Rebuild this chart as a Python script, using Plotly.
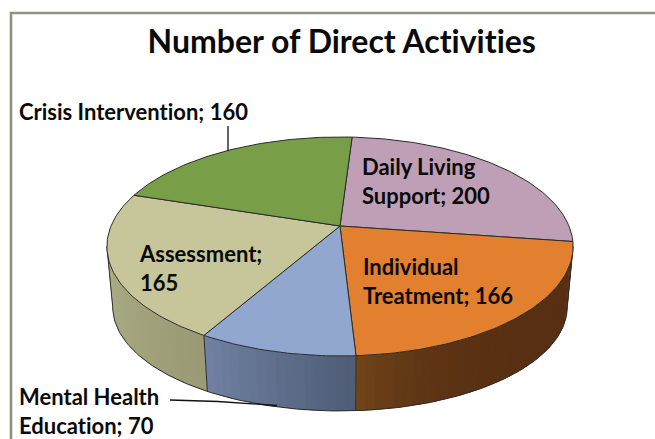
import math
import plotly.graph_objects as go

# ---- data ----
categories = ["Daily Living Support", "Individual Treatment", "Mental Health Education", "Assessment", "Crisis Intervention"]
values = [200, 166, 70, 165, 160]
top_colors = ["#BE9FB5", "#E28030", "#91A7CF", "#C6C69A", "#789E47"]
side_from = [None, "#582F12", "#4F5D76", "#9A9B74", None]
side_to = [None, "#704419", "#6F80A2", "#ACAD86", None]
side_ease = [1, 6.0, 1.0, 1.0, 1]
title_text = "Number of Direct Activities"
start_angle = 3.6

# ---- projection of the tilted pie ----
HX, HY, D, A, C = 340.0, 226.0, 229.0, -63.4, 0.187
BASE_S, BASE_X, BASE_Y = 0.975, 0.95, 411.0
EDGE = "#2b2b2b"
LIMB_R = math.degrees(math.acos(-C))
LIMB_L = 360 - LIMB_R


def top_pt(t):
    r = math.radians(t)
    u, v = math.sin(r), math.cos(r)
    w = 1 + C * v
    return HX + D * u / w, (HY + A * v) / w


def low_pt(t):
    x, y = top_pt(t)
    return HX + (x - HX) * BASE_S, BASE_Y + (y - 356.0) * BASE_X


def hexmix(a, b, f):
    ca = [int(a[i:i + 2], 16) for i in (1, 3, 5)]
    cb = [int(b[i:i + 2], 16) for i in (1, 3, 5)]
    return "rgb(%d,%d,%d)" % tuple(round(p + (q - p) * f) for p, q in zip(ca, cb))


def arange(a, b, step=1.0):
    n = max(2, int(abs(b - a) / step) + 1)
    return [a + (b - a) * i / (n - 1) for i in range(n)]


total = sum(values)
spans = []
ang = start_angle
for val in values:
    end = ang + val / total * 360
    spans.append((ang, end))
    ang = end

fig = go.Figure()


def poly(xs, ys, fill, line=None, width=1):
    ln = dict(color=line, width=width) if line else dict(width=0)
    fig.add_trace(go.Scatter(x=xs, y=ys, mode="lines", fill="toself", fillcolor=fill,
                             line=ln, hoverinfo="skip", showlegend=False))


def path(xs, ys, color=EDGE, width=1):
    fig.add_trace(go.Scatter(x=xs, y=ys, mode="lines", line=dict(color=color, width=width),
                             hoverinfo="skip", showlegend=False))


# side wall: overlapping strips per visible slice, painted so no seams appear
for (a, b), c0, c1, e in zip(spans, side_from, side_to, side_ease):
    if c0 is None:
        continue
    a = max(a, LIMB_R - 2.6)
    b = min(b, LIMB_L)
    ts = arange(a, b, 2.0)
    for i in range(len(ts) - 1):
        f = (i / max(1, len(ts) - 2)) ** e
        col = hexmix(c0, c1, f)
        arc = arange(ts[i], b if i > len(ts) - 3 else ts[i + 1] + 1.0, 1.0)
        arc = [min(t, b) for t in arc]
        p = [top_pt(t) for t in arc] + [low_pt(t) for t in reversed(arc)]
        poly([q[0] for q in p] + [p[0][0]], [q[1] for q in p] + [p[0][1]], col)

# lower rim, outer limb lines and wall edges
rim = arange(LIMB_R, LIMB_L, 1.0)
path([low_pt(t)[0] for t in rim], [low_pt(t)[1] for t in rim])
for t in (LIMB_R, spans[1][1], spans[2][1], LIMB_L):
    path([top_pt(t)[0], low_pt(t)[0]], [top_pt(t)[1], low_pt(t)[1]])

# top face wedges
for (a, b), col in zip(spans, top_colors):
    ts = arange(a, b, 1.0)
    pts = [top_pt(t) for t in ts]
    poly([HX] + [q[0] for q in pts] + [HX], [HY] + [q[1] for q in pts] + [HY], col, EDGE, 1)

# data-label leader lines
path([228, 228], [126, 151], "#111111", 1.3)
path([170, 218, 277], [400, 401.5, 405.5], "#111111", 1.3)

label_font = dict(family="Lato", size=22, color="#0a0a0a")
labels = [
    (360, 180.5, "Daily Living<br>Support; %d" % values[0]),
    (361, 281, "Individual<br>Treatment; %d" % values[1]),
    (17, 411, "Mental Health<br>Education; %d" % values[2]),
    (137, 268, "Assessment;<br>%d" % values[3]),
    (17, 111, "Crisis Intervention; %d" % values[4]),
]
annotations = [dict(x=x, y=y, xref="x", yref="y", text="<b>%s</b>" % t, showarrow=False,
                    xanchor="left", yanchor="middle", align="left", font=label_font)
               for x, y, t in labels]
annotations.append(dict(x=341, y=40, xref="x", yref="y", text="<b>%s</b>" % title_text, showarrow=False,
                        xanchor="center", yanchor="middle", font=dict(family="Lato", size=32, color="#0a0a0a")))

fig.update_layout(
    width=655, height=439, margin=dict(l=0, r=0, t=0, b=0),
    paper_bgcolor="white", plot_bgcolor="white", showlegend=False,
    xaxis=dict(range=[0, 655], visible=False, fixedrange=True),
    yaxis=dict(range=[439, 0], visible=False, fixedrange=True),
    annotations=annotations,
    shapes=[dict(type="path", path="M 11 439 L 11 13 L 656 13", xref="x", yref="y",
                 line=dict(color="#8E9080", width=2.6))],
)
fig.write_html("out.html", config=dict(displayModeBar=False),
               post_script="document.body.style.margin='0';document.body.style.overflow='hidden';"
                           "var s=document.createElement('style');"
                           "s.textContent='svg text,svg tspan{font-variant-ligatures:none !important;"
                           "font-feature-settings:\"liga\" 0,\"clig\" 0,\"dlig\" 0,\"calt\" 0 !important}';"
                           "document.head.appendChild(s);window.dispatchEvent(new Event('resize'));")
